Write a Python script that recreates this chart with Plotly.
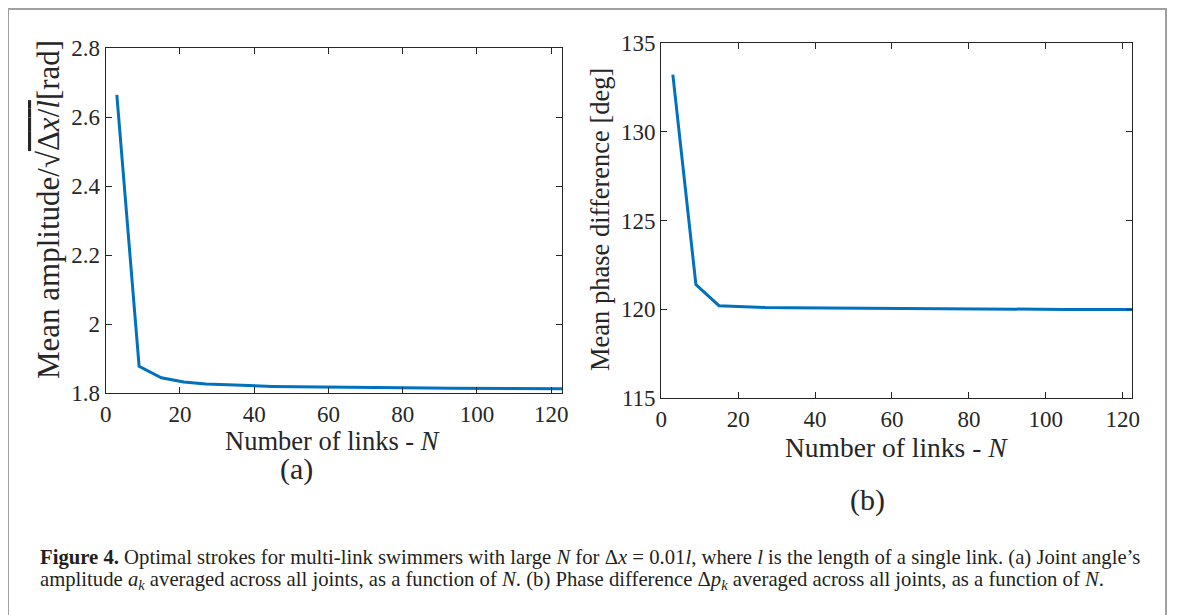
import plotly.graph_objects as go

# ---- data ----
N_links = [3, 9, 15, 21, 27, 33, 39, 45, 51, 57, 63, 69, 75, 81, 87, 93, 99, 105, 111, 117, 123]
mean_amp = [2.665, 1.878, 1.845, 1.833, 1.827, 1.824, 1.822, 1.820, 1.819, 1.818, 1.817,
            1.8165, 1.816, 1.8155, 1.815, 1.8145, 1.814, 1.8137, 1.8135, 1.8132, 1.813]
mean_phase = [133.2, 121.4, 120.21, 120.14, 120.11, 120.09, 120.08, 120.07, 120.065, 120.06,
              120.055, 120.05, 120.05, 120.0, 120.0, 120.0, 120.0, 120.0, 120.0, 120.0, 120.0]
x_ticks = [0, 20, 40, 60, 80, 100, 120]
amp_ticks = [1.8, 2.0, 2.2, 2.4, 2.6, 2.8]
amp_ticklabels = ["1.8", "2", "2.2", "2.4", "2.6", "2.8"]
phase_ticks = [115, 120, 125, 130, 135]

W, H = 1182, 615
OFF = 8  # page body margin offset
def px(x):
    return (x - OFF) / W
def py(y):
    return 1 - (y - OFF) / H

LINE = "#0072BD"
AX = "#262626"
SERIF = "Liberation Serif"

fig = go.Figure()
fig.add_trace(go.Scatter(x=N_links, y=mean_amp, mode="lines",
                         line=dict(color=LINE, width=3), xaxis="x", yaxis="y",
                         showlegend=False, hoverinfo="skip"))
fig.add_trace(go.Scatter(x=N_links, y=mean_phase, mode="lines",
                         line=dict(color=LINE, width=3), xaxis="x2", yaxis="y2",
                         showlegend=False, hoverinfo="skip"))

axcommon = dict(showline=True, linecolor=AX, linewidth=1.3, mirror="ticks",
                ticks="inside", ticklen=6, tickwidth=1.3, tickcolor=AX,
                showgrid=False, zeroline=False,
                tickfont=dict(family=SERIF, size=23, color=AX))

fig.update_layout(
    width=W, height=H,
    margin=dict(l=0, r=0, t=0, b=0, autoexpand=False),
    paper_bgcolor="white", plot_bgcolor="white",
    xaxis=dict(domain=[px(105.7), px(562.3)], range=[0, 123], tickvals=x_ticks,
               anchor="y", **axcommon),
    yaxis=dict(domain=[py(393.3), py(48.3)], range=[1.8, 2.8], tickvals=amp_ticks,
               ticktext=amp_ticklabels, anchor="x", **axcommon),
    xaxis2=dict(domain=[px(661.3), px(1132.3)], range=[0, 122.5], tickvals=x_ticks,
                anchor="y2", **axcommon),
    yaxis2=dict(domain=[py(398.3), py(42.7)], range=[115, 135], tickvals=phase_ticks,
                anchor="x2", **axcommon),
)

ann = [
    dict(x=px(332), y=py(441), text="Number of links - <i>N</i>",
         font=dict(family=SERIF, size=26.5, color=AX)),
    dict(x=px(896), y=py(447), text="Number of links - <i>N</i>",
         font=dict(family=SERIF, size=27.5, color=AX)),
    dict(x=px(49), y=py(210), textangle=-90,
         text="Mean amplitude/√<span style='text-decoration:overline'>Δ<i>x</i>/<i>l</i></span>[rad]",
         font=dict(family=SERIF, size=31, color=AX)),
    dict(x=px(600), y=py(220), textangle=-90, text="Mean phase difference [deg]",
         font=dict(family=SERIF, size=26.5, color=AX)),
    dict(x=px(296), y=py(469), text="(a)", font=dict(family=SERIF, size=30, color=AX)),
    dict(x=px(867), y=py(500), text="(b)", font=dict(family=SERIF, size=30, color=AX)),
    dict(x=px(38), y=py(557), xanchor="left",
         text="<b>Figure 4.</b> Optimal strokes for multi-link swimmers with large <i>N</i> for Δ<i>x</i> = 0.01<i>l</i>, where <i>l</i> is the length of a single link. (a) Joint angle’s",
         font=dict(family=SERIF, size=20.7, color="#231f20")),
    dict(x=px(38), y=py(580), xanchor="left",
         text="amplitude <i>a<sub>k</sub></i> averaged across all joints, as a function of <i>N</i>. (b) Phase difference Δ<i>p<sub>k</sub></i> averaged across all joints, as a function of <i>N</i>.",
         font=dict(family=SERIF, size=20.7, color="#231f20")),
]
for a in ann:
    a.setdefault("xanchor", "center")
    a.update(xref="paper", yref="paper", yanchor="middle", showarrow=False)
fig.update_layout(annotations=ann)

fig.add_shape(type="rect", xref="paper", yref="paper",
              x0=px(8), x1=px(1166), y0=py(625), y1=py(9),
              line=dict(color="#a0a0a0", width=2), fillcolor="rgba(0,0,0,0)", layer="below")

fig.write_html("out.html")
